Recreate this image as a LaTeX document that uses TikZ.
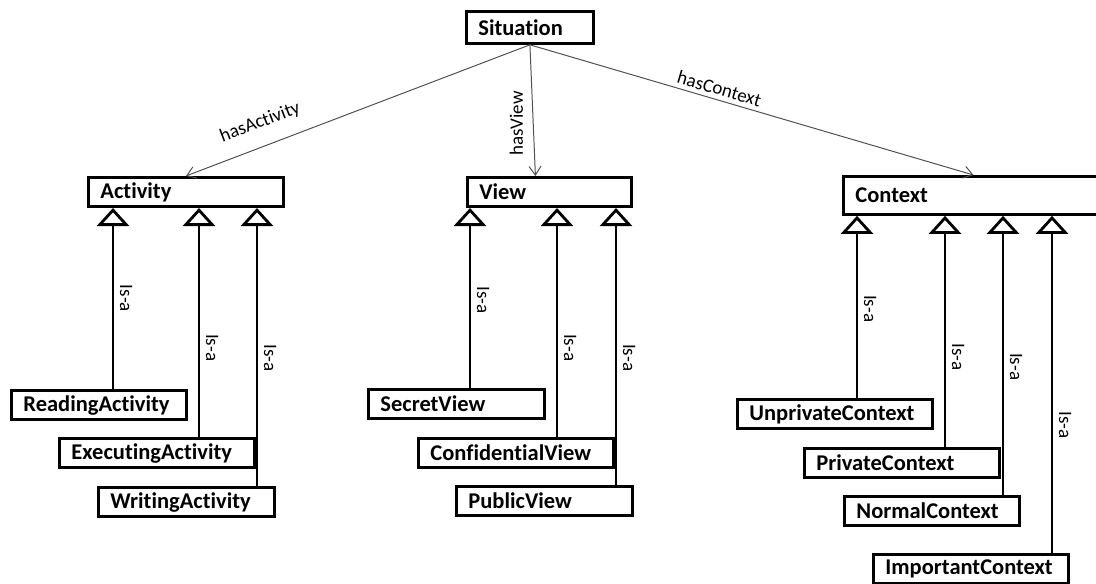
\documentclass[tikz,border=0pt]{standalone}
\usepackage{fontspec}
\setmainfont{Carlito}[Ligatures=NoCommon]
\usetikzlibrary{arrows.meta}
\definecolor{AssocGray}{HTML}{505050}

\begin{document}
\begin{tikzpicture}[
    x=0.025cm, y=-0.025cm,
    cls/.style={
      draw,
      line width=2pt,
      anchor=north west,
      text width=#1,
      align=left,
      inner xsep=0.3cm,
      inner ysep=0pt,
      minimum height=0.73cm,
      font=\fontsize{16}{18}\selectfont\bfseries
    },
    assoc/.style={
      -{Straight Barb[length=0.22cm,width=0.3cm]},
      line width=0.7pt,
      draw=AssocGray
    },
    isa/.style={
      -{Triangle[open,length=0.45cm,width=0.8cm]},
      line width=2pt
    },
    rel/.style={font=\fontsize{13.5}{16}\selectfont, inner sep=2pt},
    isalbl/.style={rel, rotate=-90, anchor=south, inner sep=4pt}
  ]

    \path[use as bounding box, fill=white] (0,0) rectangle (1096,584);

    % Root and the three classes it points to
    \node[cls=2.575cm, minimum height=0.8cm] (sit) at (465,10) {Situation};
    \node[cls=4.275cm] (act) at (87,176) {Activity};
    \node[cls=3.5cm] (view) at (466,176) {View};
    \node[cls=5.9cm, minimum height=0.95cm] (ctx) at (842,175) {Context};

    % Subclasses, stepped down under each parent
    \node[cls=3.775cm] (ra) at (10,389) {ReadingActivity};
    \node[cls=4.275cm] (ea) at (58,437) {ExecutingActivity};
    \node[cls=3.8cm] (wa) at (97,486) {WritingActivity};

    \node[cls=3.8cm] (sv) at (367,388) {SecretView};
    \node[cls=4.275cm] (cv) at (417,437) {ConfidentialView};
    \node[cls=3.8cm] (pv) at (455,485) {PublicView};

    \node[cls=4.275cm] (uc) at (736,398) {UnprivateContext};
    \node[cls=4.275cm] (pc) at (803,447) {PrivateContext};
    \node[cls=3.775cm] (nc) at (843,495) {NormalContext};
    \node[cls=4.275cm] (ic) at (872,553) {ImportantContext};

    % Associations from the root
    \draw[assoc] (sit.south) -- node[rel, sloped, above=0.3cm, pos=.76] {hasActivity} (act.north);
    \draw[assoc] (sit.south) -- node[rel, rotate=90, anchor=south, inner sep=7pt, pos=.6] {hasView} ([xshift=-0.35cm]view.north);
    \draw[assoc] (sit.south) -- node[rel, sloped, above=1pt, pos=.42] {hasContext} (ctx.north);

    % Generalisation links (child / parent / x of the trunk / label position)
    \foreach \kid/\mom/\tx/\p in {ra/act/113/.5, ea/act/199/.39, wa/act/257/.46,
                                   sv/view/470/.49, cv/view/557/.39, pv/view/616/.46,
                                   uc/ctx/857/.49, pc/ctx/945/.39, nc/ctx/1003/.46, ic/ctx/1052/.38}
      \draw[isa] (\kid.north -| \tx,0) -- node[isalbl, pos=\p] {Is-a} (\mom.south -| \tx,0);
  \end{tikzpicture}
\end{document}
